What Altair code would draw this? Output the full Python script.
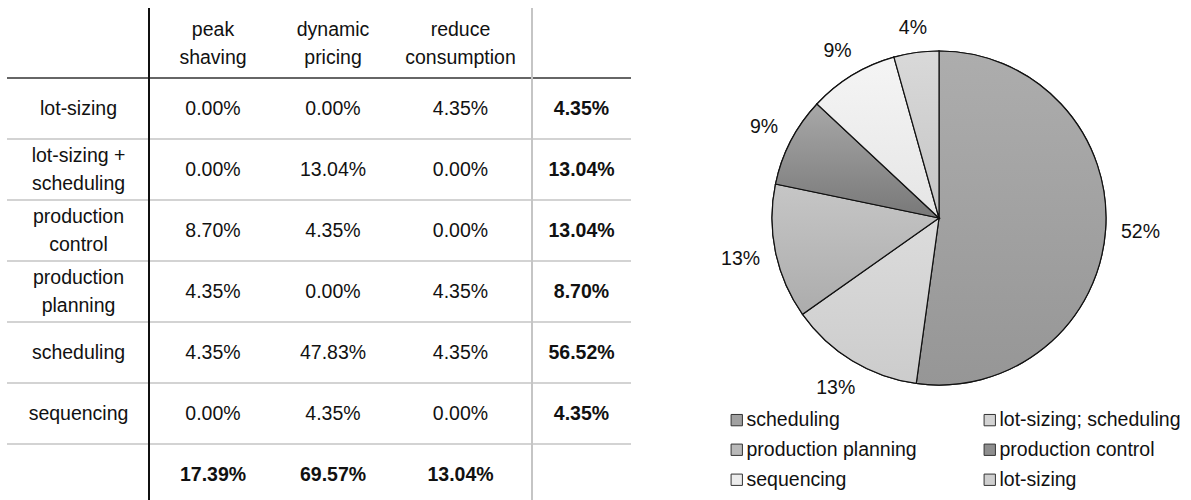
import altair as alt
import pandas as pd

# ---------------- data ----------------
row_labels = ["lot-sizing", "lot-sizing +\nscheduling", "production\ncontrol",
              "production\nplanning", "scheduling", "sequencing"]
col_headers = ["peak\nshaving", "dynamic\npricing", "reduce\nconsumption"]
peak_shaving = [0.00, 0.00, 8.70, 4.35, 4.35, 0.00]
dynamic_pricing = [0.00, 13.04, 4.35, 0.00, 47.83, 4.35]
reduce_consumption = [4.35, 0.00, 0.00, 4.35, 4.35, 0.00]
row_totals = [4.35, 13.04, 13.04, 8.70, 56.52, 4.35]
col_totals = [17.39, 69.57, 13.04]

# pie slices, clockwise from 12 o'clock
pie_categories = ["scheduling", "lot-sizing; scheduling", "production planning",
                  "production control", "sequencing", "lot-sizing"]
pie_counts = [12, 3, 3, 2, 2, 1]
# legend order (filled column by column)
legend_order = ["scheduling", "production planning", "sequencing",
                "lot-sizing; scheduling", "production control", "lot-sizing"]

# ---------------- styling / layout ----------------
FONT = "Liberation Sans"
FS = 19.5
LH = 28
TXT = "#111111"
COL_X = {"label": 78.5, "peak": 213, "dynamic": 333, "reduce": 460.5, "total": 581.5}
VAL_COLS = ["peak", "dynamic", "reduce"]
ROW_KEYS = row_labels + ["total"]
Y_SCALE = alt.Scale(type="point", domain=ROW_KEYS, range=[78, 505], padding=0.5)
TABLE_L, TABLE_R, TABLE_T, TABLE_B = 7, 631, 8, 500

PIE_CX, PIE_CY, PIE_R = 939, 218, 167
solid = {"scheduling": "#a1a1a1", "lot-sizing; scheduling": "#d3d3d3",
         "production planning": "#b9b9b9", "production control": "#8e8e8e",
         "sequencing": "#ececec", "lot-sizing": "#cfcfcf"}
grads = {"scheduling": ("#adadad", "#969696"), "lot-sizing; scheduling": ("#dcdcdc", "#cccccc"),
         "production planning": ("#c6c6c6", "#acacac"), "production control": ("#a8a8a8", "#787878"),
         "sequencing": ("#f5f5f5", "#e5e5e5"), "lot-sizing": ("#d9d9d9", "#c5c5c5")}

# ---------------- table data ----------------
recs = []
for i, lab in enumerate(row_labels):
    recs.append(dict(row=lab, col="label", txt=lab, bold=False))
    for c, arr in zip(VAL_COLS, [peak_shaving, dynamic_pricing, reduce_consumption]):
        recs.append(dict(row=lab, col=c, txt=f"{arr[i]:.2f}%", bold=False))
    recs.append(dict(row=lab, col="total", txt=f"{row_totals[i]:.2f}%", bold=True))
for c, v in zip(VAL_COLS, col_totals):
    recs.append(dict(row="total", col=c, txt=f"{v:.2f}%", bold=True))
cells = pd.DataFrame(recs)
headers = pd.DataFrame({"col": VAL_COLS, "txt": col_headers})
rows_df = pd.DataFrame({"row": ROW_KEYS})
multi_rows = [r for r in row_labels if "\n" in r]
single_rows = [r for r in ROW_KEYS if "\n" not in r]

layers = []

# horizontal rules
layers.append(
    alt.Chart(rows_df).transform_filter(alt.datum.row != ROW_KEYS[0])
    .mark_rule(color="#c4c4c4", strokeWidth=1.5)
    .encode(y=alt.Y("row:N", scale=Y_SCALE, axis=None), yOffset=alt.value(-30.5),
            x=alt.value(TABLE_L), x2=alt.value(TABLE_R))
)
layers.append(
    alt.Chart(rows_df).transform_filter(alt.datum.row == ROW_KEYS[0])
    .mark_rule(color="#333333", strokeWidth=1.5)
    .encode(y=alt.Y("row:N", scale=Y_SCALE, axis=None), yOffset=alt.value(-30.5),
            x=alt.value(TABLE_L), x2=alt.value(TABLE_R))
)
# vertical rules
layers.append(
    alt.Chart(rows_df).mark_rule(color="#c4c4c4", strokeWidth=1.5)
    .encode(x=alt.value(532), y=alt.value(TABLE_T), y2=alt.value(TABLE_B))
)
layers.append(
    alt.Chart(rows_df).mark_rule(color="#111111", strokeWidth=1.6)
    .encode(x=alt.value(149), y=alt.value(TABLE_T), y2=alt.value(TABLE_B))
)

# header text (two lines, centred in the header band)
for c in VAL_COLS:
    layers.append(
        alt.Chart(headers).transform_filter(alt.datum.col == c)
        .mark_text(font=FONT, fontSize=FS, color=TXT, lineBreak="\n", lineHeight=LH,
                   align="center", baseline="middle", dy=-LH / 2)
        .encode(text="txt:N", x=alt.value(COL_X[c]), y=alt.value(44))
    )

# row label text
for rows_sel, dy in [(single_rows, 0), (multi_rows, -LH / 2)]:
    layers.append(
        alt.Chart(cells)
        .transform_filter(alt.datum.col == "label")
        .transform_filter(alt.FieldOneOfPredicate(field="row", oneOf=rows_sel))
        .mark_text(font=FONT, fontSize=FS, color=TXT, lineBreak="\n", lineHeight=LH,
                   align="center", baseline="middle", dy=dy)
        .encode(text="txt:N", x=alt.value(COL_X["label"]),
                y=alt.Y("row:N", scale=Y_SCALE, axis=None))
    )

# value text
for c in VAL_COLS + ["total"]:
    for b in [False, True]:
        sub = cells[(cells.col == c) & (cells.bold == b)]
        if len(sub) == 0:
            continue
        layers.append(
            alt.Chart(cells)
            .transform_filter((alt.datum.col == c) & (alt.datum.bold == b))
            .mark_text(font=FONT, fontSize=FS, color=TXT, align="center", baseline="middle",
                       fontWeight="bold" if b else "normal")
            .encode(text="txt:N", x=alt.value(COL_X[c]),
                    y=alt.Y("row:N", scale=Y_SCALE, axis=None))
        )

# ---------------- pie ----------------
pie_df = pd.DataFrame({"cat": pie_categories, "count": pie_counts})
pie_base = alt.Chart(pie_df).transform_window(idx="row_number()")

legend = alt.Legend(
    title=None, orient="none", legendX=727, legendY=410, columns=2,
    columnPadding=63, rowPadding=9, symbolType="square", symbolSize=128,
    symbolStrokeColor="#333333", symbolStrokeWidth=1, labelFont=FONT,
    labelFontSize=FS, labelColor=TXT, labelLimit=400, labelOffset=0, padding=0,
)

layers.append(
    pie_base.mark_arc(radius=PIE_R, stroke="#111111", strokeWidth=1.2)
    .encode(theta=alt.Theta("count:Q", stack=True),
            order=alt.Order("idx:Q", sort="ascending"),
            color=alt.Color("cat:N",
                            scale=alt.Scale(domain=legend_order,
                                            range=[solid[c] for c in legend_order]),
                            legend=legend),
            x=alt.value(PIE_CX), y=alt.value(PIE_CY))
)


def grad(top, bottom):
    return {"gradient": "linear", "x1": 0, "y1": 0, "x2": 0, "y2": 1,
            "stops": [{"offset": 0, "color": top}, {"offset": 1, "color": bottom}]}


conds = [{"test": f"datum.cat === '{c}'", "value": grad(*grads[c])} for c in pie_categories]

layers.append(
    pie_base.mark_arc(radius=PIE_R, stroke="#111111", strokeWidth=1.2)
    .encode(theta=alt.Theta("count:Q", stack=True),
            order=alt.Order("idx:Q", sort="ascending"),
            color=alt.value("#aaaaaa", condition=conds),
            x=alt.value(PIE_CX), y=alt.value(PIE_CY))
)

GAP = 15
layers.append(
    pie_base.transform_joinaggregate(total="sum(count)")
    .transform_window(cum="sum(count)", sort=[alt.SortField("idx")], frame=[None, 0])
    .transform_calculate(
        mid="2*PI*(datum.cum - datum.count/2)/datum.total",
        lbl="format(datum.count/datum.total, '.0%')",
    )
    .transform_calculate(
        lr=f"{PIE_R} + {GAP} + abs(sin(datum.mid))*length(datum.lbl)*6.5 + abs(cos(datum.mid))*{FS/2 - 2}"
    )
    .transform_calculate(
        lx=f"{PIE_CX} + datum.lr*sin(datum.mid)",
        ly=f"{PIE_CY} - datum.lr*cos(datum.mid)",
    )
    .mark_text(font=FONT, fontSize=FS, color=TXT, align="center", baseline="middle")
    .encode(x=alt.X("lx:Q", scale=None, axis=None), y=alt.Y("ly:Q", scale=None, axis=None),
            text="lbl:N")
)

chart = (
    alt.layer(*layers)
    .resolve_scale(x="independent", y="independent")
    .properties(width=1191, height=500, autosize=alt.AutoSizeParams(type="none"), padding=0)
    .configure_view(stroke=None)
)

chart.save("out.html", embed_options={"renderer": "svg", "actions": False})
